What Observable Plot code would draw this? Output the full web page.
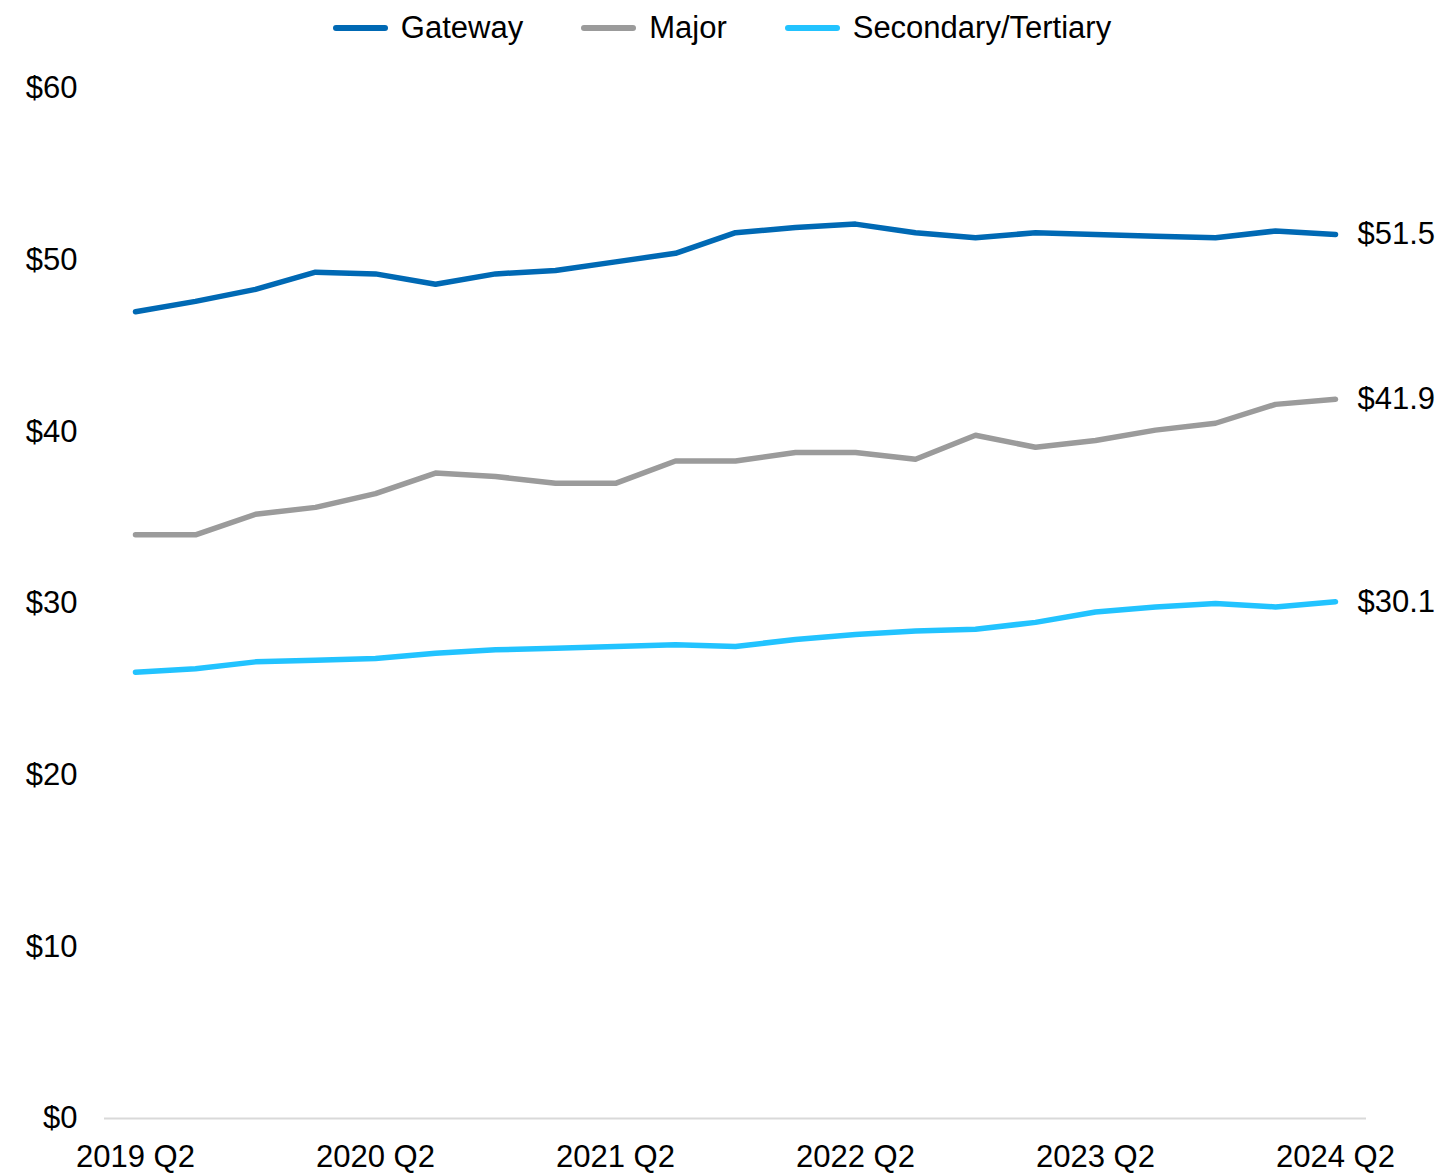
<!DOCTYPE html>
<html>
<head>
<meta charset="utf-8">
<script src="https://cdn.jsdelivr.net/npm/d3@7"></script>
<script src="https://cdn.jsdelivr.net/npm/@observablehq/plot@0.6"></script>
<style>
  html, body { margin: 0; padding: 0; background: #fff; }
  body { width: 1444px; font-family: "Liberation Sans", Arial, sans-serif; }
  #legend { height: 55px; display: flex; justify-content: center; align-items: center; gap: 58px; font-size: 31px; color: #000; padding-left: 0; }
  .item { display: flex; align-items: center; gap: 13px; }
  .sw { width: 55px; height: 6px; border-radius: 3px; }
</style>
</head>
<body>
<div id="legend"></div>
<div id="chart"></div>
<script>
const quarters = ["2019 Q2","2019 Q3","2019 Q4","2020 Q1","2020 Q2","2020 Q3","2020 Q4","2021 Q1","2021 Q2","2021 Q3","2021 Q4","2022 Q1","2022 Q2","2022 Q3","2022 Q4","2023 Q1","2023 Q2","2023 Q3","2023 Q4","2024 Q1","2024 Q2"];
const seriesNames = ["Gateway", "Major", "Secondary/Tertiary"];
const gateway = [47.0, 47.6, 48.3, 49.3, 49.2, 48.6, 49.2, 49.4, 49.9, 50.4, 51.6, 51.9, 52.1, 51.6, 51.3, 51.6, 51.5, 51.4, 51.3, 51.7, 51.5];
const major = [34.0, 34.0, 35.2, 35.6, 36.4, 37.6, 37.4, 37.0, 37.0, 38.3, 38.3, 38.8, 38.8, 38.4, 39.8, 39.1, 39.5, 40.1, 40.5, 41.6, 41.9];
const secondary = [26.0, 26.2, 26.6, 26.7, 26.8, 27.1, 27.3, 27.4, 27.5, 27.6, 27.5, 27.9, 28.2, 28.4, 28.5, 28.9, 29.5, 29.8, 30.0, 29.8, 30.1];
const colors = ["#0069B4", "#9B9B9B", "#22C3FF"];
const yTicks = [0, 10, 20, 30, 40, 50, 60];
const xTickLabels = ["2019 Q2","2020 Q2","2021 Q2","2022 Q2","2023 Q2","2024 Q2"];

const values = [gateway, major, secondary];
const data = [];
seriesNames.forEach((s, i) => values[i].forEach((v, j) => data.push({series: s, quarter: quarters[j], value: v})));
const last = seriesNames.map((s, i) => ({series: s, quarter: quarters[quarters.length - 1], value: values[i][values[i].length - 1]}));

// legend
const leg = document.getElementById("legend");
seriesNames.forEach((s, i) => {
  const it = document.createElement("div"); it.className = "item";
  const sw = document.createElement("div"); sw.className = "sw"; sw.style.background = colors[i];
  const t = document.createElement("span"); t.textContent = s;
  it.appendChild(sw); it.appendChild(t); leg.appendChild(it);
});

const chart = Plot.plot({
  width: 1444,
  height: 1120,
  marginLeft: 104,
  marginRight: 78,
  marginTop: 33,
  marginBottom: 57,
  style: { fontFamily: "'Liberation Sans', Arial, sans-serif", fontSize: "31px", color: "#000", background: "#fff" },
  x: { type: "point", domain: quarters, padding: 0.5, label: null },
  y: { domain: [0, 60], label: null },
  color: { domain: seriesNames, range: colors },
  marks: [
    Plot.ruleY([0], { stroke: "#d9d9d9", strokeWidth: 2 }),
    Plot.axisY({ ticks: yTicks, tickSize: 0, tickPadding: 27, tickFormat: d => "$" + d, fontSize: 31, label: null }),
    Plot.axisX({ ticks: xTickLabels, tickSize: 0, tickPadding: 26, fontSize: 31, label: null }),
    Plot.line(data, { x: "quarter", y: "value", z: "series", stroke: "series", strokeWidth: 5.5, strokeLinecap: "round", strokeLinejoin: "round" }),
    Plot.text(last, { x: "quarter", y: "value", text: d => "$" + d.value.toFixed(1), textAnchor: "start", dx: 22, fontSize: 31, fill: "#000" })
  ]
});
document.getElementById("chart").appendChild(chart);
</script>
</body>
</html>
